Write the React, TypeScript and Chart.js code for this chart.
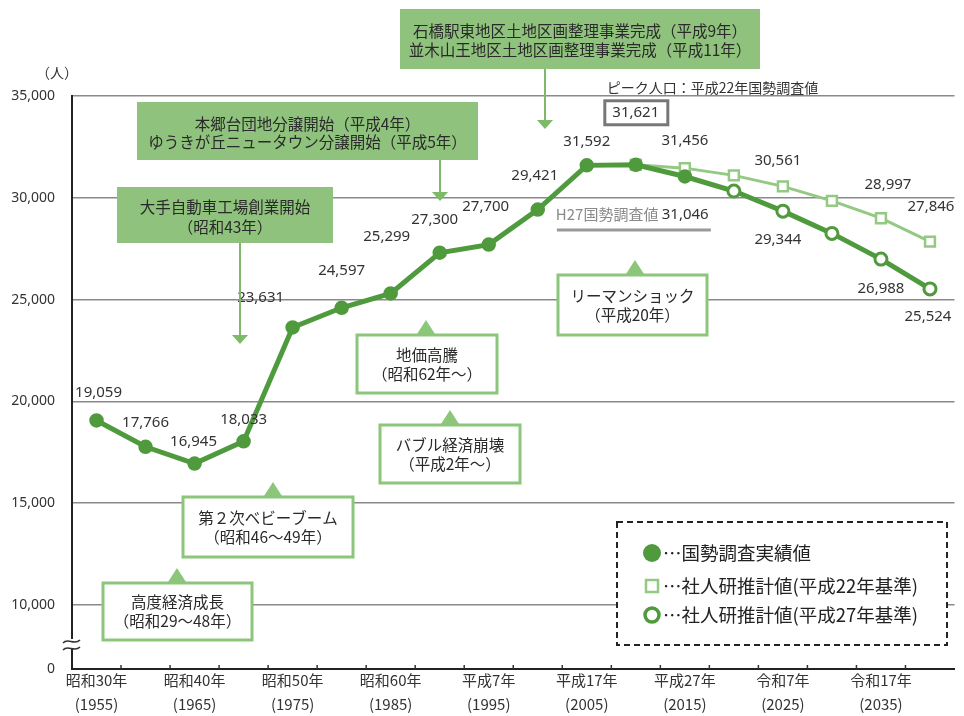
import { useEffect, useRef } from "react";
import { Chart, registerables } from "chart.js";
Chart.register(...registerables);

// ---- data ----
const years = [1955, 1960, 1965, 1970, 1975, 1980, 1985, 1990, 1995, 2000, 2005, 2010, 2015, 2020, 2025, 2030, 2035, 2040];
const xTickLabels = [
  ["昭和30年", "(1955)"],
  ["昭和40年", "(1965)"],
  ["昭和50年", "(1975)"],
  ["昭和60年", "(1985)"],
  ["平成7年", "(1995)"],
  ["平成17年", "(2005)"],
  ["平成27年", "(2015)"],
  ["令和7年", "(2025)"],
  ["令和17年", "(2035)"],
];
const actual = [19059, 17766, 16945, 18033, 23631, 24597, 25299, 27300, 27700, 29421, 31592, 31621, 31046, null, null, null, null, null];
const projH22 = [null, null, null, null, null, null, null, null, null, null, null, 31621, 31456, 31100, 30561, 29850, 28997, 27846];
const projH27 = [null, null, null, null, null, null, null, null, null, null, null, null, 31046, 30330, 29344, 28250, 26988, 25524];
const yTicks = [6850, 10000, 15000, 20000, 25000, 30000, 35000];
const legendLabels = ["…国勢調査実績値", "…社人研推計値(平成22年基準)", "…社人研推計値(平成27年基準)"];

// ---- styles ----
const DARK = "#4f9a3d";
const LIGHT = "#93c982";
const BOXFILL = "#8fc27c";
const BORDER = "#8cc67a";
const TEXT = "#2a2a2a";
const JP = "'Noto Sans CJK JP', 'Noto Sans', sans-serif";
const NUM = "'Noto Sans', 'Noto Sans CJK JP', sans-serif";

// label offsets (dx, dy) relative to points
const actualLabelOff: (number[] | null)[] = [[2, -28], [0, -24], [-1, -22], [0, -22], [-32, -30], [0, -37], [-4, -57], [-5, -33], [-3, -38], [-3, -34], [0, -24], null, null];
const h22LabelOff: any = { 12: [0, -27], 14: [-5, -26], 16: [7, -33], 17: [1, -35] };
const h27LabelOff: any = { 14: [-5, 29], 16: [0, 30], 17: [-2, 28] };

const fmt = (v: number) => v.toLocaleString("en-US");

const annotPlugin = {
  id: "annot",
  afterDraw(chart: any) {
    const ctx = chart.ctx as CanvasRenderingContext2D;
    const area = chart.chartArea;
    ctx.save();

    // x tick marks (inward)
    const w = (area.right - area.left) / years.length;
    ctx.strokeStyle = "#333";
    ctx.lineWidth = 1.5;
    for (let i = 1; i < years.length; i++) {
      const x = area.left + i * w;
      ctx.beginPath();
      ctx.moveTo(x, area.bottom);
      ctx.lineTo(x, area.bottom - 4);
      ctx.stroke();
    }

    // axis break
    ctx.fillStyle = "#fff";
    ctx.fillRect(area.left - 3, area.bottom - 30, 6, 10);
    ctx.strokeStyle = "#333";
    ctx.lineWidth = 1.5;
    [area.bottom - 28, area.bottom - 21].forEach((y) => {
      ctx.beginPath();
      ctx.moveTo(area.left - 9, y + 2);
      ctx.bezierCurveTo(area.left - 4, y - 4, area.left + 2, y + 5, area.left + 8, y - 1);
      ctx.stroke();
    });

    // unit
    ctx.fillStyle = "#333";
    ctx.font = `14px ${JP}`;
    ctx.textAlign = "center";
    ctx.textBaseline = "middle";
    ctx.fillText("（人）", 57, 73);

    // data labels
    const drawLabels = (dsIndex: number, data: (number | null)[], offs: any) => {
      const meta = chart.getDatasetMeta(dsIndex);
      ctx.fillStyle = "#333";
      ctx.font = `15px ${NUM}`;
      ctx.textAlign = "center";
      ctx.textBaseline = "middle";
      data.forEach((v, i) => {
        const o = offs[i];
        if (v == null || !o) return;
        const el = meta.data[i];
        ctx.fillText(fmt(v), el.x + o[0], el.y + o[1]);
      });
    };
    drawLabels(0, actual, actualLabelOff);
    drawLabels(1, projH22, h22LabelOff);
    drawLabels(2, projH27, h27LabelOff);

    // peak boxed label
    const m0 = chart.getDatasetMeta(0);
    const peak = m0.data[11];
    ctx.strokeStyle = "#777";
    ctx.lineWidth = 3;
    ctx.fillStyle = "#fff";
    ctx.fillRect(peak.x - 31, peak.y - 64, 63, 24);
    ctx.strokeRect(peak.x - 31, peak.y - 64, 63, 24);
    ctx.fillStyle = "#333";
    ctx.font = `15px ${NUM}`;
    ctx.fillText(fmt(actual[11] as number), peak.x, peak.y - 52);
    ctx.textAlign = "left";
    ctx.font = `14px ${JP}`;
    ctx.fillText("ピーク人口：平成22年国勢調査値", peak.x - 29, peak.y - 77);

    // H27 census label
    const h27p = m0.data[12];
    ctx.fillStyle = "#8a8a8a";
    ctx.font = `15px ${JP}`;
    ctx.textAlign = "left";
    const t1 = "H27国勢調査値 ";
    ctx.fillText(t1, h27p.x - 129, h27p.y + 38);
    const t1w = ctx.measureText(t1).width;
    ctx.fillStyle = "#333";
    ctx.font = `15px ${NUM}`;
    ctx.fillText(fmt(actual[12] as number), h27p.x - 129 + t1w, h27p.y + 38);
    ctx.fillStyle = "#999";
    ctx.fillRect(h27p.x - 128, h27p.y + 52, 154, 3);

    // filled boxes with arrows
    const arrow = (x: number, y1: number, y2: number) => {
      ctx.strokeStyle = "#7cb968";
      ctx.lineWidth = 2;
      ctx.beginPath();
      ctx.moveTo(x, y1);
      ctx.lineTo(x, y2 - 8);
      ctx.stroke();
      ctx.fillStyle = "#7cb968";
      ctx.beginPath();
      ctx.moveTo(x - 8, y2 - 9);
      ctx.lineTo(x + 8, y2 - 9);
      ctx.lineTo(x, y2);
      ctx.closePath();
      ctx.fill();
    };
    const filledBox = (x1: number, y1: number, x2: number, y2: number, lines: string[], ly: number[]) => {
      ctx.fillStyle = BOXFILL;
      ctx.fillRect(x1, y1, x2 - x1, y2 - y1);
      ctx.fillStyle = TEXT;
      ctx.font = `15.5px ${JP}`;
      ctx.textAlign = "center";
      ctx.textBaseline = "middle";
      lines.forEach((t, i) => ctx.fillText(t, (x1 + x2) / 2, ly[i]));
    };
    arrow(545, 69, 129);
    filledBox(400, 9, 760, 69, ["石橋駅東地区土地区画整理事業完成（平成9年）", "並木山王地区土地区画整理事業完成（平成11年）"], [31, 50]);
    arrow(440, 160, 201);
    filledBox(137, 102, 478, 160, ["本郷台団地分譲開始（平成4年）", "ゆうきが丘ニュータウン分譲開始（平成5年）"], [124, 142]);
    arrow(240, 243, 344);
    filledBox(117, 187, 333, 243, ["大手自動車工場創業開始", "（昭和43年）"], [207, 227]);

    // outline boxes with triangle pointers
    const outlineBox = (x1: number, y1: number, x2: number, y2: number, lines: string[], tx: number) => {
      ctx.fillStyle = "#fff";
      ctx.fillRect(x1, y1, x2 - x1, y2 - y1);
      ctx.strokeStyle = BORDER;
      ctx.lineWidth = 3;
      ctx.strokeRect(x1, y1, x2 - x1, y2 - y1);
      ctx.fillStyle = BORDER;
      ctx.beginPath();
      ctx.moveTo(tx - 9, y1 - 1);
      ctx.lineTo(tx + 9, y1 - 1);
      ctx.lineTo(tx, y1 - 15);
      ctx.closePath();
      ctx.fill();
      ctx.fillStyle = TEXT;
      ctx.font = `15.5px ${JP}`;
      ctx.textAlign = "center";
      ctx.textBaseline = "middle";
      const cy = (y1 + y2) / 2;
      ctx.fillText(lines[0], (x1 + x2) / 2, cy - 9);
      ctx.fillText(lines[1], (x1 + x2) / 2, cy + 10);
    };
    outlineBox(103, 583, 252, 640, ["高度経済成長", "（昭和29～48年）"], 177);
    outlineBox(183, 497, 353, 557, ["第２次ベビーブーム", "（昭和46～49年）"], 273);
    outlineBox(357, 335, 497, 393, ["地価高騰", "（昭和62年～）"], 426);
    outlineBox(380, 425, 520, 483, ["バブル経済崩壊", "（平成2年～）"], 450);
    outlineBox(558, 275, 707, 335, ["リーマンショック", "（平成20年）"], 635);

    // legend
    ctx.fillStyle = "#fff";
    ctx.fillRect(617, 522, 330, 123);
    ctx.strokeStyle = "#222";
    ctx.lineWidth = 2;
    ctx.setLineDash([6, 4]);
    ctx.strokeRect(617, 522, 330, 123);
    ctx.setLineDash([]);
    const lys = [553, 586, 615];
    ctx.fillStyle = DARK;
    ctx.beginPath();
    ctx.arc(652, lys[0], 9, 0, Math.PI * 2);
    ctx.fill();
    ctx.strokeStyle = LIGHT;
    ctx.lineWidth = 2.5;
    ctx.strokeRect(646, lys[1] - 6, 12, 12);
    ctx.strokeStyle = DARK;
    ctx.lineWidth = 3.5;
    ctx.beginPath();
    ctx.arc(652, lys[2], 7, 0, Math.PI * 2);
    ctx.stroke();
    ctx.fillStyle = "#222";
    ctx.font = `18.5px ${JP}`;
    ctx.textAlign = "left";
    ctx.textBaseline = "middle";
    legendLabels.forEach((t, i) => ctx.fillText(t, 663, lys[i]));

    ctx.restore();
  },
};

export default function App() {
  const ref = useRef<HTMLCanvasElement>(null);
  useEffect(() => {
    if (!ref.current) return;
    const chart = new Chart(ref.current, {
      type: "line",
      data: {
        labels: years.map(String),
        datasets: [
          {
            data: actual,
            borderColor: DARK,
            backgroundColor: DARK,
            borderWidth: 5,
            pointRadius: 6.5,
            pointBorderWidth: 1.5,
            pointBackgroundColor: DARK,
            pointBorderColor: DARK,
            order: 0,
            spanGaps: false,
          },
          {
            data: projH22,
            borderColor: LIGHT,
            borderWidth: 3,
            pointStyle: "rect",
            pointRadius: 7,
            pointBorderWidth: 2.5,
            pointBackgroundColor: "#fff",
            pointBorderColor: LIGHT,
            order: 2,
          },
          {
            data: projH27,
            borderColor: DARK,
            borderWidth: 5,
            pointStyle: "circle",
            pointRadius: (c: any) => (c.dataIndex === 12 ? 0 : 6),
            pointBorderWidth: 3,
            pointBackgroundColor: "#fff",
            pointBorderColor: DARK,
            order: 1,
          },
        ],
      },
      options: {
        animation: false,
        responsive: true,
        maintainAspectRatio: false,
        events: [],
        layout: { padding: { top: 96, left: 0, right: 0, bottom: 0 } },
        plugins: { legend: { display: false }, tooltip: { enabled: false } },
        scales: {
          x: {
            type: "category",
            offset: true,
            grid: { display: true, drawOnChartArea: false, drawTicks: false, offset: true },
            border: { display: true, color: "#222", width: 2 },
            ticks: {
              autoSkip: false,
              maxRotation: 0,
              padding: 0,
              color: "#333",
              font: { family: JP, size: 15, lineHeight: 1.55 },
              callback: (_v: any, i: number) => (i % 2 === 0 ? xTickLabels[i / 2] : ""),
            },
            afterFit: (s: any) => {
              s.height = 47;
            },
          },
          y: {
            type: "linear",
            min: yTicks[0],
            max: yTicks[yTicks.length - 1],
            afterBuildTicks: (s: any) => {
              s.ticks = yTicks.map((v) => ({ value: v }));
            },
            grid: {
              drawTicks: false,
              color: (c: any) => (c.tick && c.tick.value === yTicks[0] ? "rgba(0,0,0,0)" : "#8a8a8a"),
              lineWidth: 1.5,
            },
            border: { display: true, color: "#222", width: 2 },
            ticks: {
              padding: 17,
              color: "#333",
              font: { family: NUM, size: 14 },
              callback: (v: any) => (v === yTicks[0] ? "0" : fmt(Number(v))),
            },
            afterFit: (s: any) => {
              s.width = 72;
            },
          },
        },
      },
      plugins: [annotPlugin],
    } as any);
    return () => chart.destroy();
  }, []);
  return (
    <div style={{ position: "fixed", left: 0, top: 0, width: 964, height: 716, background: "#fff" }}>
      <canvas ref={ref} />
    </div>
  );
}
